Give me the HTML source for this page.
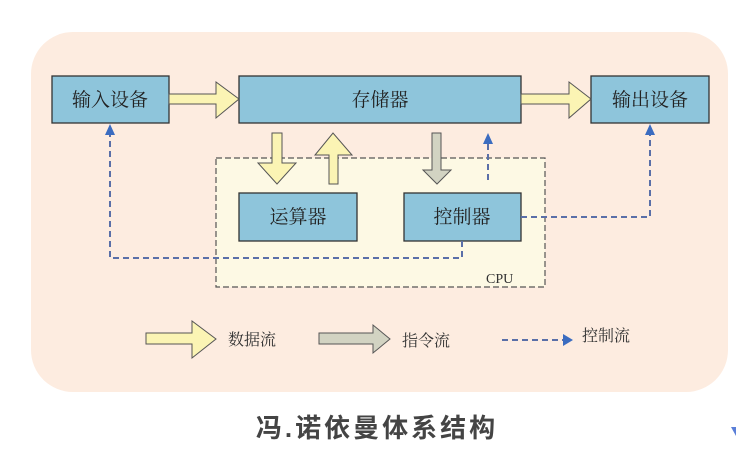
<!DOCTYPE html>
<html><head><meta charset="utf-8"><style>
html,body{margin:0;padding:0;background:#fff;}
svg{display:block}
</style></head><body>
<svg width="736" height="449" viewBox="0 0 736 449" xmlns="http://www.w3.org/2000/svg">
<rect x="31" y="32" width="697" height="360" rx="42" fill="#fdece0"/>
<rect x="216" y="158" width="329" height="129" fill="#fdf9e4" stroke="#555" stroke-width="1.2" stroke-dasharray="6,3"/>
<g fill="#8ec5db" stroke="#333" stroke-width="1.3">
<rect x="52" y="76" width="117" height="47"/>
<rect x="239" y="76" width="282" height="47"/>
<rect x="591" y="76" width="118" height="47"/>
<rect x="239" y="193" width="118" height="48"/>
<rect x="404" y="193" width="117" height="48"/>
</g>
<g font-family="'Liberation Serif','Noto Serif CJK SC',serif" font-size="19" fill="#222" text-anchor="middle">
<text x="110" y="106">输入设备</text>
<text x="380" y="106">存储器</text>
<text x="650" y="106">输出设备</text>
<text x="298" y="223">运算器</text>
<text x="462" y="223">控制器</text>
</g>
<text x="486" y="283" font-family="'Liberation Serif',serif" font-size="14" fill="#333">CPU</text>
<g fill="#fbf4b4" stroke="#555" stroke-width="1">
<path d="M169 94 H216 V82 L239 99 L216 118 V104 H169 Z"/>
<path d="M521 94 H569 V82 L591 99 L569 118 V104 H521 Z"/>
<path d="M272 133 H282 V163 H296 L277 184 L258 163 H272 Z"/>
<path d="M329 184 V155 H315 L333 133 L352 155 H338 V184 Z"/>
</g>
<path d="M432 133 H441 V170 H451 L437 184 L423 170 H432 Z" fill="#d2d3c2" stroke="#555" stroke-width="1"/>
<g fill="none" stroke="#5a6fa8" stroke-width="2" stroke-dasharray="6,4">
<path d="M488 180 V142"/>
<path d="M521 217 H650 V134"/>
<path d="M462 241 V258 H110 V134"/>
</g>
<g fill="#3b6cc0">
<path d="M488 133 L483 144 H493 Z"/>
<path d="M650 124 L645 135 H655 Z"/>
<path d="M110 124 L105 135 H115 Z"/>
</g>
<path d="M146 333 H192 V321 L216 339 L192 358 V344 H146 Z" fill="#fbf4b4" stroke="#555" stroke-width="1"/>
<path d="M319 333 H373 V325 L390 339 L373 353 V344 H319 Z" fill="#d2d3c2" stroke="#555" stroke-width="1"/>
<path d="M502 340 H564" stroke="#5a6fa8" stroke-width="2" stroke-dasharray="6,4"/>
<path d="M573 340 L563 334 V346 Z" fill="#3b6cc0"/>
<g font-family="'Liberation Serif','Noto Serif CJK SC',serif" font-size="16" fill="#333">
<text x="228" y="345">数据流</text>
<text x="402" y="346">指令流</text>
<text x="582" y="341">控制流</text>
</g>
<text x="377" y="437" text-anchor="middle" font-family="'Liberation Sans','Noto Sans CJK SC',sans-serif" font-size="26" font-weight="bold" fill="#444" letter-spacing="3">冯.诺依曼体系结构</text>
<path d="M731 427 L736 427 L736 436 Z" fill="#5a7fd8"/>
</svg>
</body></html>
